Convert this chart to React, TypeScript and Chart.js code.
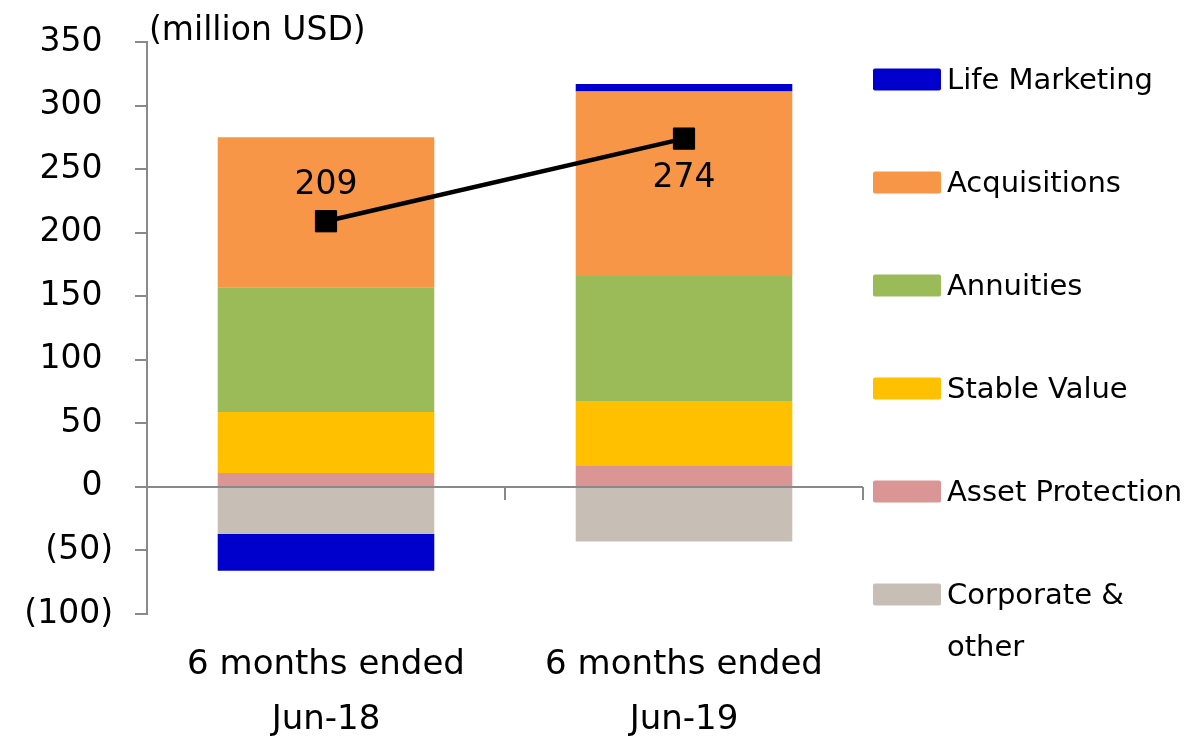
import React, { useEffect, useRef } from "react";
import { Chart, registerables } from "chart.js";

Chart.register(...registerables);

const categories = [["6 months ended", "Jun-18"], ["6 months ended", "Jun-19"]];
const lifeMarketing = [-29, 6];
const acquisitions = [118, 145];
const annuities = [98, 99];
const stableValue = [48, 50];
const assetProtection = [11, 17];
const corporateOther = [-37, -43];
const totals = [209, 274];
const yTicks = [-100, -50, 0, 50, 100, 150, 200, 250, 300, 350];

const COLORS = {
  life: "#0000CC",
  acq: "#F79646",
  ann: "#9BBB59",
  sv: "#FFC000",
  ap: "#D99694",
  corp: "#C7BFB5",
};

const legendItems = [
  { label: ["Life Marketing"], color: COLORS.life },
  { label: ["Acquisitions"], color: COLORS.acq },
  { label: ["Annuities"], color: COLORS.ann },
  { label: ["Stable Value"], color: COLORS.sv },
  { label: ["Asset Protection"], color: COLORS.ap },
  { label: ["Corporate &", "other"], color: COLORS.corp },
];

const FONT = "'DejaVu Sans', Verdana, sans-serif";
const AXIS_GRAY = "#898989";

const overlayPlugin = {
  id: "overlay",
  afterDatasetsDraw(chart: any) {
    const { ctx, chartArea, scales } = chart;
    const y0 = scales.y.getPixelForValue(0);
    ctx.save();
    ctx.strokeStyle = AXIS_GRAY;
    ctx.lineWidth = 2;
    ctx.beginPath();
    ctx.moveTo(chartArea.left, y0);
    ctx.lineTo(chartArea.right, y0);
    const n = categories.length;
    const w = (chartArea.right - chartArea.left) / n;
    for (let i = 1; i <= n; i++) {
      const x = chartArea.left + i * w;
      ctx.moveTo(x, y0);
      ctx.lineTo(x, y0 + 13);
    }
    ctx.stroke();
    ctx.restore();
  },
  afterDraw(chart: any) {
    const { ctx } = chart;
    ctx.save();
    // unit label
    ctx.fillStyle = "#000";
    ctx.font = `33px ${FONT}`;
    ctx.textAlign = "left";
    ctx.textBaseline = "middle";
    ctx.fillText("(million USD)", 149, 31);

    // data labels for the line
    const lineIdx = chart.data.datasets.findIndex((d: any) => d.type === "line");
    const meta = chart.getDatasetMeta(lineIdx);
    ctx.textAlign = "center";
    meta.data.forEach((pt: any, i: number) => {
      const off = i === 0 ? -36 : 40;
      ctx.fillText(String(totals[i]), pt.x, pt.y + off);
    });

    // legend
    ctx.font = `29px ${FONT}`;
    ctx.textAlign = "left";
    const startY = 79.5;
    const step = 103;
    legendItems.forEach((it, i) => {
      const cy = startY + i * step;
      ctx.fillStyle = it.color;
      ctx.beginPath();
      (ctx as any).roundRect(873, cy - 11, 68, 22, 2);
      ctx.fill();
      ctx.fillStyle = "#000";
      it.label.forEach((line, j) => {
        ctx.fillText(line, 947, cy + 2 + j * 52);
      });
    });
    ctx.restore();
  },
};

export default function App() {
  const ref = useRef<HTMLCanvasElement | null>(null);

  useEffect(() => {
    if (!ref.current) return;
    const barCommon = {
      type: "bar" as const,
      stack: "bars",
      order: 1,
      barPercentage: 0.605,
      categoryPercentage: 1,
      borderWidth: 0,
    };
    const chart = new Chart(ref.current, {
      data: {
        labels: categories as any,
        datasets: [
          { ...barCommon, label: "Asset Protection", data: assetProtection, backgroundColor: COLORS.ap },
          { ...barCommon, label: "Corporate & other", data: corporateOther, backgroundColor: COLORS.corp },
          { ...barCommon, label: "Stable Value", data: stableValue, backgroundColor: COLORS.sv },
          { ...barCommon, label: "Annuities", data: annuities, backgroundColor: COLORS.ann },
          { ...barCommon, label: "Acquisitions", data: acquisitions, backgroundColor: COLORS.acq },
          { ...barCommon, label: "Life Marketing", data: lifeMarketing, backgroundColor: COLORS.life },
          {
            type: "line" as const,
            label: "Total",
            stack: "line",
            order: 0,
            data: totals,
            borderColor: "#000",
            borderWidth: 4.5,
            pointStyle: "rect",
            pointRadius: 15,
            pointBackgroundColor: "#000",
            pointBorderColor: "#000",
            pointBorderWidth: 1,
            tension: 0,
          },
        ] as any,
      },
      options: {
        animation: false,
        responsive: true,
        maintainAspectRatio: false,
        layout: { padding: { top: 42, right: 324, left: 0, bottom: 0 } },
        plugins: {
          legend: { display: false },
          tooltip: { enabled: false },
        },
        scales: {
          x: {
            stacked: true,
            grid: { display: false },
            border: { display: false },
            ticks: {
              color: "#000",
              font: { family: FONT, size: 34, lineHeight: 1.62 },
              padding: 16,
              maxRotation: 0,
            },
            afterFit(scale: any) {
              scale.height = 125;
            },
          },
          y: {
            stacked: true,
            min: -100,
            max: 350,
            afterBuildTicks(scale: any) {
              scale.ticks = yTicks.map((v) => ({ value: v }));
            },
            grid: {
              display: true,
              drawOnChartArea: false,
              drawTicks: true,
              tickLength: 12,
              color: AXIS_GRAY,
              lineWidth: 2,
            },
            border: { display: true, color: AXIS_GRAY, width: 2 },
            ticks: {
              color: "#000",
              font: { family: FONT, size: 33 },
              padding: 22,
              callback: (v: any) => (Number(v) < 0 ? `(${-Number(v)})` : `${v} `),
            },
            afterFit(scale: any) {
              scale.width = 147;
            },
          },
        },
      },
      plugins: [overlayPlugin],
    } as any);
    return () => chart.destroy();
  }, []);

  return (
    <div style={{ position: "fixed", left: 0, top: 0, width: 1187, height: 739, background: "#fff" }}>
      <canvas ref={ref} />
    </div>
  );
}
